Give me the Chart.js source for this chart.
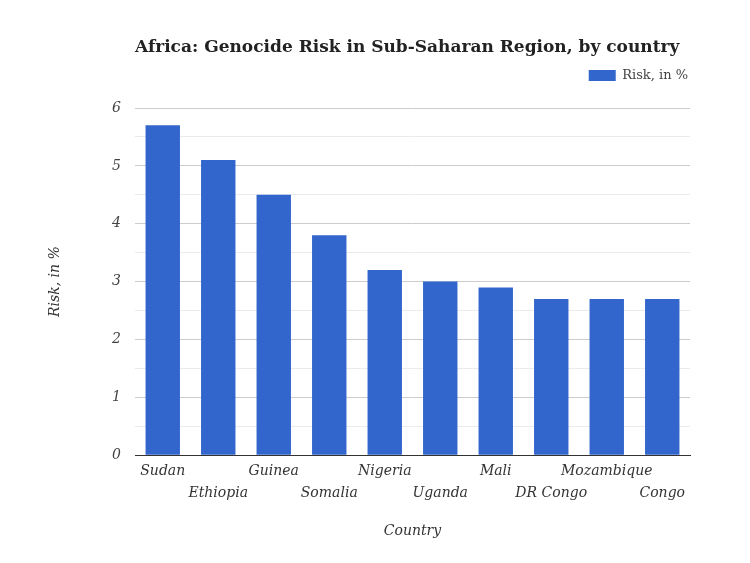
<!DOCTYPE html>
<html>
<head>
<meta charset="utf-8">
<script src="https://cdn.jsdelivr.net/npm/chart.js@4"></script>
<style>
  html, body { margin: 0; padding: 0; background: #fff; }
  #wrap { width: 750px; height: 563px; }
</style>
</head>
<body>
<div id="wrap"><canvas id="chart" width="750" height="563"></canvas></div>
<script>
const countries = ["Sudan", "Ethiopia", "Guinea", "Somalia", "Nigeria", "Uganda", "Mali", "DR Congo", "Mozambique", "Congo"];
const riskValues = [5.7, 5.1, 4.5, 3.8, 3.2, 3.0, 2.9, 2.7, 2.7, 2.7];
const yTicks = [0, 1, 2, 3, 4, 5, 6];

const FONT = "'DejaVu Serif', 'Liberation Serif', serif";
const TITLE = 'Africa: Genocide Risk in Sub-Saharan Region, by country';

// title sits left-aligned with the plot area, like the original
const leftTitle = {
    id: 'leftTitle',
    afterInit(chart) {
        // add some room between the legend and the plot
        const lg = chart.legend;
        if (lg) {
            const fit = lg.fit;
            lg.fit = function () { fit.call(this); this.height += 16; };
        }
    },
    afterDraw(chart) {
        const c = chart.ctx;
        c.save();
        c.font = "bold 17px " + FONT;
        c.fillStyle = '#222';
        c.textBaseline = 'middle';
        c.textAlign = 'left';
        c.fillText(TITLE, chart.chartArea.left, 48);
        c.restore();
    }
};

const ctx = document.getElementById('chart').getContext('2d');
new Chart(ctx, {
    type: 'bar',
    data: {
        labels: countries,
        datasets: [{
            label: 'Risk, in %',
            data: riskValues,
            backgroundColor: '#3366cc',
            categoryPercentage: 1,
            barPercentage: 0.62
        }]
    },
    plugins: [leftTitle],
    options: {
        responsive: false,
        animation: false,
        layout: { padding: { top: 67, left: 47, right: 60, bottom: 23 } },
        plugins: {
            legend: {
                align: 'end',
                labels: {
                    boxWidth: 27,
                    boxHeight: 11,
                    color: '#444',
                    font: { family: FONT, size: 13 },
                    padding: 2
                }
            },
            tooltip: { enabled: false }
        },
        scales: {
            x: {
                grid: { display: false, drawTicks: false },
                border: { color: '#333', width: 1 },
                ticks: {
                    autoSkip: false,
                    maxRotation: 0,
                    padding: 5,
                    color: '#333',
                    font: { family: FONT, size: 14, style: 'italic', lineHeight: 1.57 },
                    callback: (v, i) => i % 2 === 1 ? ['', countries[i]] : countries[i]
                },
                title: {
                    display: true,
                    text: 'Country',
                    color: '#333',
                    font: { family: FONT, size: 14, style: 'italic' },
                    padding: { top: 14, bottom: 0 }
                }
            },
            y: {
                min: 0,
                max: 6,
                afterFit: (s) => { s.width = 88; },
                border: { display: false },
                grid: {
                    drawTicks: false,
                    color: (c) => (c.tick && Number.isInteger(c.tick.value)) ? '#cccccc' : '#ebebeb'
                },
                ticks: {
                    stepSize: 0.5,
                    padding: 14,
                    color: '#444',
                    font: { family: FONT, size: 14, style: 'italic' },
                    callback: (v) => yTicks.includes(v) ? String(v) : ''
                },
                title: {
                    display: true,
                    text: 'Risk, in %',
                    color: '#333',
                    font: { family: FONT, size: 14, style: 'italic' },
                    padding: { top: 0, bottom: 0 }
                }
            }
        }
    }
});
</script>
</body>
</html>
